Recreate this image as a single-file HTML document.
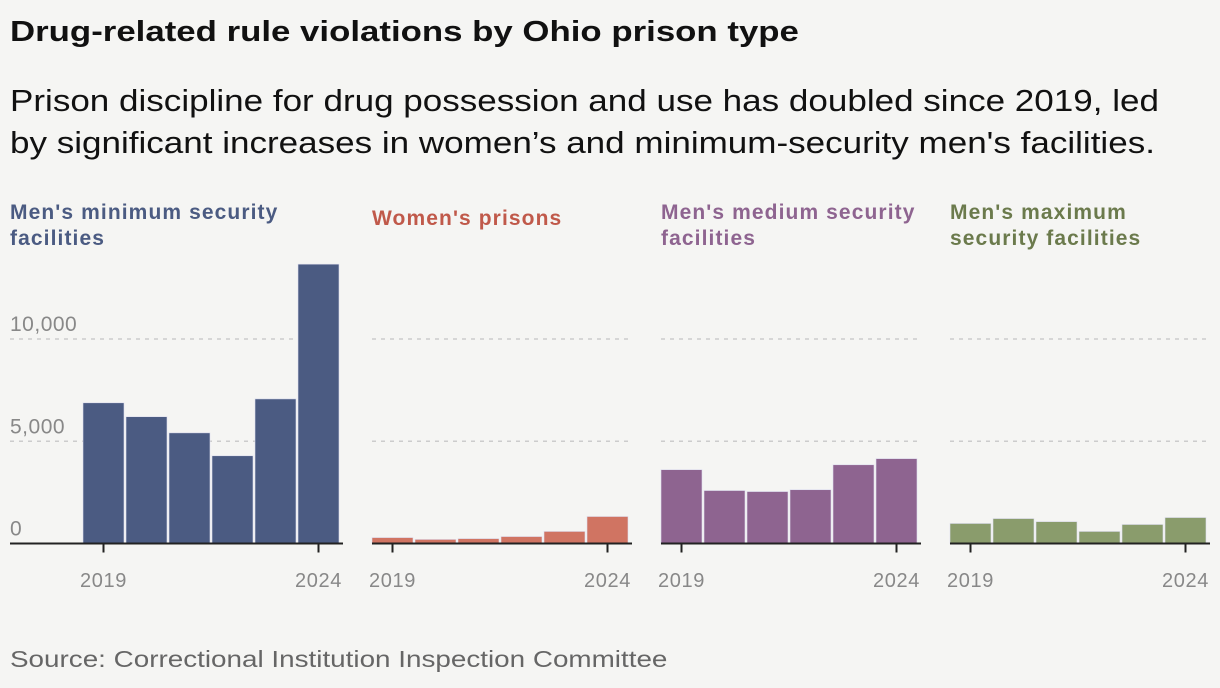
<!DOCTYPE html>
<html><head><meta charset="utf-8"><style>
body{margin:0;background:#f5f5f3;font-family:"Liberation Sans",sans-serif;}
#wrap{position:relative;width:1220px;height:688px;overflow:hidden;}
.t{position:absolute;white-space:nowrap;transform-origin:0 0;}
</style></head><body>
<div id="wrap">
<div class="t" style="left:10px;top:16px;font-size:29px;font-weight:bold;color:#111;transform:scaleX(1.2);">Drug-related rule violations by Ohio prison type</div>
<div class="t" style="left:10px;top:80px;font-size:31px;line-height:42px;color:#111;transform:scaleX(1.13);">Prison discipline for drug possession and use has doubled since 2019, led<br>by significant increases in women’s and minimum-security men's facilities.</div>
<div class="t" style="left:10px;top:646px;font-size:23px;color:#666;transform:scaleX(1.21);">Source: Correctional Institution Inspection Committee</div>
<svg id="svg" width="1220" height="688" style="position:absolute;left:0;top:0"></svg>
</div>
<script>
const years=[2019,2020,2021,2022,2023,2024];
const panelNames=["Men's minimum security|facilities","Women's prisons","Men's medium security|facilities","Men's maximum|security facilities"];
const minValues=[6880,6200,5410,4290,7070,13660];
const womenValues=[290,200,240,340,590,1320];
const mediumValues=[3610,2590,2540,2630,3850,4150];
const maxValues=[980,1220,1070,590,930,1270];
const yTicks=[0,5000,10000];
const tickLabels=["0","5,000","10,000"];

const series=[minValues,womenValues,mediumValues,maxValues];
const fills=["#4b5b82","#d07462","#8e6490","#8a9c6c"];
const titleCols=["#4b5b82","#c0594a","#8e6490","#6b7a4c"];
const panelX=[83,372,661,950];
const barW=43, base=543.5, scale=(543.5-339)/10000;
const y=v=>base-v*scale;
const svg=document.getElementById('svg');
const NS='http://www.w3.org/2000/svg';
function mk(tag,attrs){const e=document.createElementNS(NS,tag);for(const k in attrs)e.setAttribute(k,attrs[k]);svg.appendChild(e);return e;}
series.forEach((vals,p)=>{
  const x0=panelX[p];
  const gx0=p===0?10:x0;
  const xe=x0+6*barW+2;
  yTicks.forEach((t,i)=>{
    if(t>0){const g=mk('line',{x1:gx0,x2:xe,y1:y(t),y2:y(t),stroke:'#ccc','stroke-width':1.5,'stroke-dasharray':'4,5'});
    
    }
    if(p===0){const tx=mk('text',{x:10,y:y(t)-8,'font-size':21,fill:'#888','letter-spacing':0.5,'font-family':'Liberation Sans, sans-serif'});tx.textContent=tickLabels[i];
    
    }
  });
  vals.forEach((v,i)=>{
    const r=mk('rect',{x:x0+i*barW,y:y(v),width:barW-2,height:base-y(v),fill:fills[p],stroke:'#dde',"stroke-width":0.6});
    
    
  });
  const ax=mk('line',{x1:gx0,x2:xe,y1:base,y2:base,stroke:'#222','stroke-width':2});
  
  
  [0,5].forEach(i=>{
    const cx=x0+i*barW+20.5;
    const tk=mk('line',{x1:cx,x2:cx,y1:base,y2:base+9,stroke:'#222','stroke-width':2});
    
    
    const tl=mk('text',{x:cx,y:587,'font-size':20,fill:'#888','text-anchor':'middle','letter-spacing':0.6,'font-family':'Liberation Sans, sans-serif'});
    tl.textContent=years[i];
    
    
  });
  const lines=panelNames[p].split('|');
  const tx0=p===0?10:x0;
  lines.forEach((l,j)=>{
    const tt=mk('text',{x:tx0,y:(lines.length===1?225:219)+j*26,'font-size':21,'font-weight':'bold','letter-spacing':1.1,fill:titleCols[p],'font-family':'Liberation Sans, sans-serif'});
    tt.textContent=l;
    
    
  });
});
</script>
</body></html>
